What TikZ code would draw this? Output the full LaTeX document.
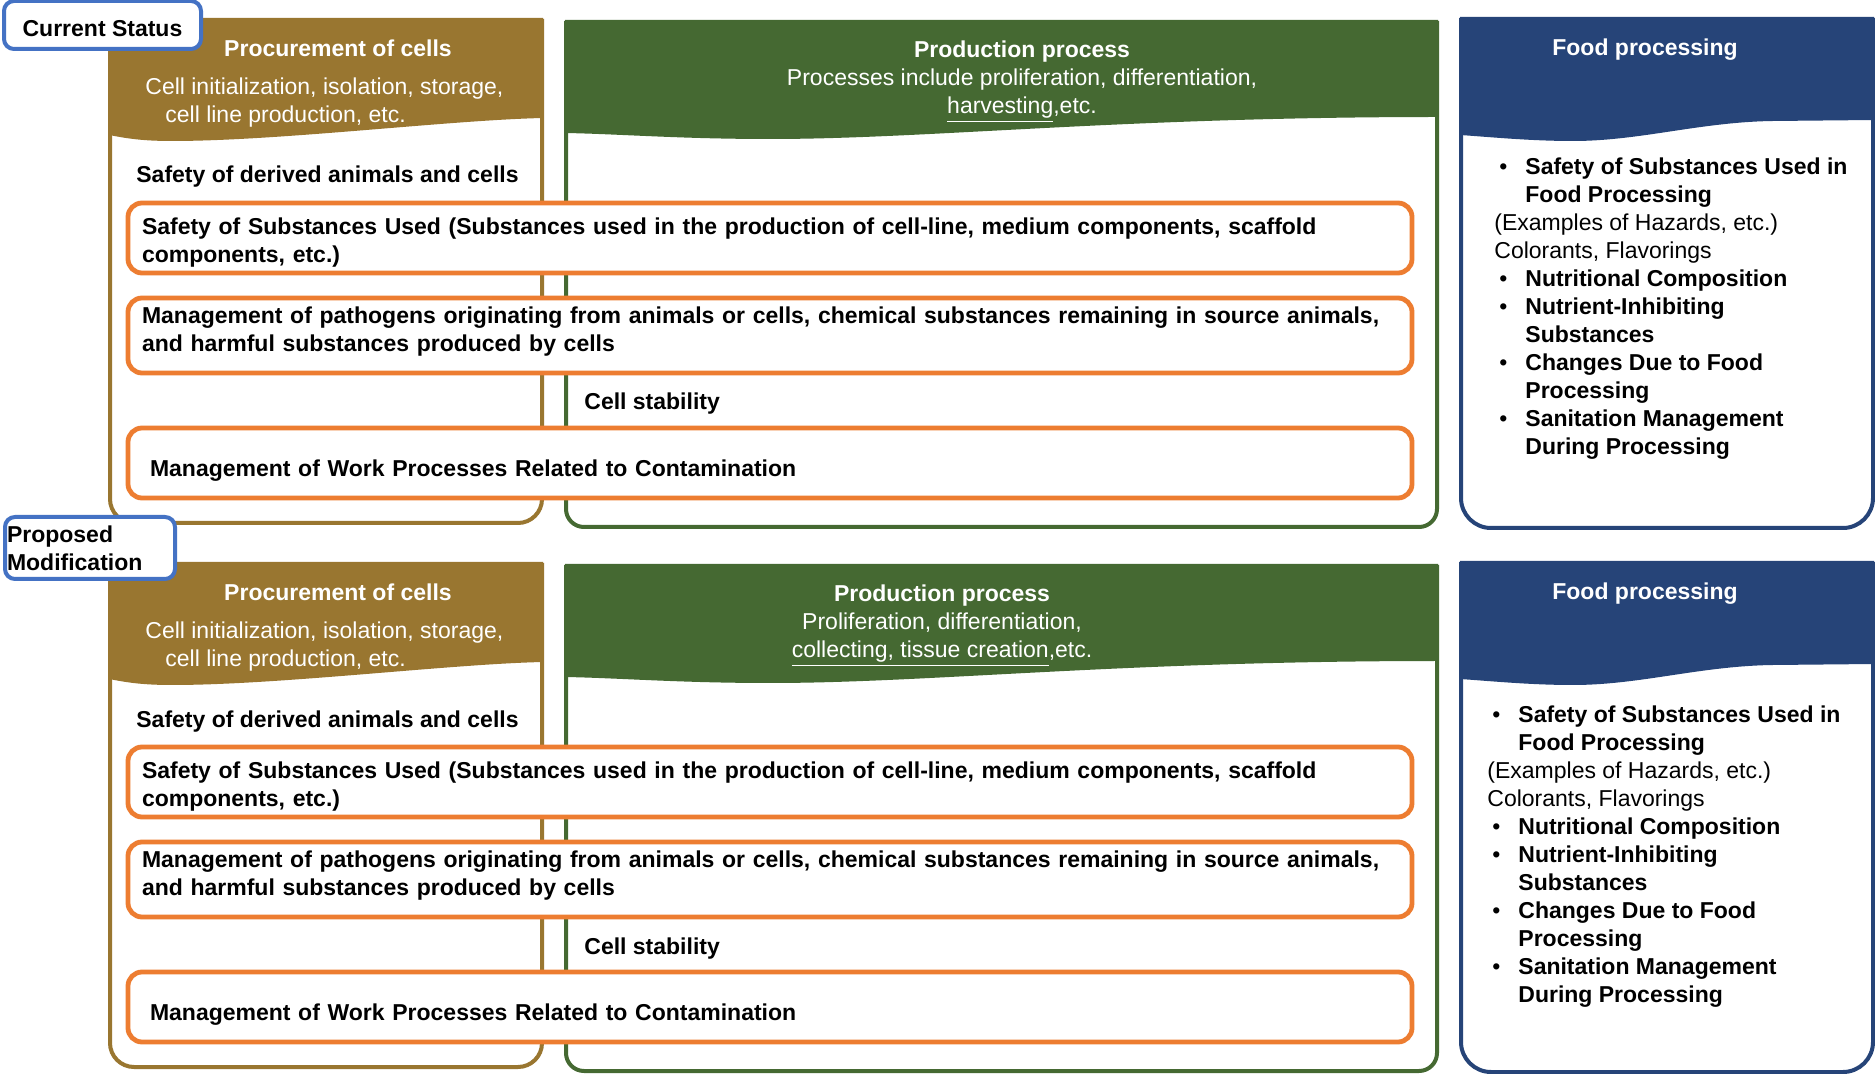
\documentclass[tikz,border=0pt]{standalone}
\usepackage{fontspec}
\setmainfont{Liberation Sans}

\definecolor{procbrown}{RGB}{153,118,48}
\definecolor{prodgreen}{RGB}{69,105,50}
\definecolor{foodblue}{RGB}{38,68,120}
\definecolor{riskorange}{RGB}{237,125,49}
\definecolor{tagblue}{RGB}{68,114,196}

\newcommand{\bodyfont}{\fontsize{11.5}{14}\selectfont}
\newcommand{\bul}{\makebox[15.5pt][l]{\hspace{2.5pt}\textbullet}}
\newcommand{\hang}{\hspace*{15.5pt}}
% lower the ink of a box without changing its size
\newcommand{\sinktext}[2]{\raisebox{-#1}[\height][\depth]{#2}}

\tikzset{
  riskbox/.style={draw=riskorange, line width=2.4pt, fill=white, rounded corners=7pt,
    minimum width=642pt, minimum height=35pt, text width=628pt, inner xsep=7pt,
    font=\bodyfont\bfseries},
  tagbox/.style={draw=tagblue, line width=2pt, fill=white, rounded corners=5pt,
    font=\bodyfont\bfseries},
  headtitle/.style={text=white, inner sep=0, font=\bodyfont\bfseries},
  headtext/.style={text=white, inner sep=0},
  boldtext/.style={anchor=base west, inner sep=0, font=\bodyfont\bfseries},
}

\begin{document}
\begin{tikzpicture}[x=0.5pt, y=-0.5pt, font=\bodyfont]
  \fill[white] (0,0) rectangle (1875,1074);
  \useasboundingbox (0,0) rectangle (1875,1074);

  % current status
  \begin{scope}
    \draw[procbrown, line width=2pt, rounded corners=12pt] (110,19) -- (110,523) -- (542,523) -- (542,19);
    \draw[prodgreen, line width=2pt, rounded corners=9pt] (566,21) -- (566,527) -- (1437,527) -- (1437,21);
    \draw[foodblue, line width=2pt, rounded corners=15pt] (1461,18) -- (1461,528) -- (1873,528) -- (1873,18);

    \fill[procbrown] (109,18) -- (543,18) -- (543,118)
      .. controls (450,120) and (280,141) .. (172,141)
      .. controls (140,141) and (125,138) .. (109,135) -- cycle;
    \fill[prodgreen] (565,20) -- (1438,20) -- (1438,117)
      .. controls (1120,117) and (930,139) .. (770,139)
      .. controls (680,139) and (620,134) .. (565,133) -- cycle;
    \fill[foodblue] (1460,17) -- (1874,17) -- (1874,120) -- (1773,121)
      .. controls (1700,122) and (1640,141) .. (1573,141)
      .. controls (1530,141) and (1490,137) .. (1460,135) -- cycle;

    \node[headtitle] (procA) at (338,48) {Procurement of cells};
    \node[headtext, anchor=base west] (procAsub) at (145,95) {\begin{tabular}[t]{@{}l@{}}
      Cell initialization, isolation, storage,\\
      \hspace*{10pt}cell line production, etc.
    \end{tabular}};
    \node[headtext, anchor=base] (prodA) at (1022,58) {\begin{tabular}[t]{@{}c@{}}
      \textbf{Production process}\\
      Processes include proliferation, differentiation,\\
      \underline{harvesting},etc.
    \end{tabular}};
    \node[headtitle] (foodA) at (1645,50) {Food processing};

    \node[boldtext] (derivedA) at (136,183) {Safety of derived animals and cells};
    \node[boldtext] (stabA) at (584,410) {Cell stability};

    \node[riskbox] (subsA) at (770,238) {\sinktext{2.5pt}{\begin{tabular}{@{}l@{}}
      Safety of Substances Used (Substances used in the production of cell-line, medium components, scaffold\\
      components, etc.)
    \end{tabular}}};
    \node[riskbox, minimum height=37.5pt] (pathA) at (770,335.5) {\sinktext{-1.8pt}{\begin{tabular}{@{}l@{}}
      Management of pathogens originating from animals or cells, chemical substances remaining in source animals,\\
      and harmful substances produced by cells
    \end{tabular}}};
    \node[riskbox] (workA) at (770,463) {\sinktext{4pt}{\begin{tabular}{@{}l@{}}
      \hspace*{4pt}Management of Work Processes Related to Contamination
    \end{tabular}}};

    \node[anchor=base west, inner sep=0] (hazA) at (1494,175) {\begin{tabular}[t]{@{}l@{}}
      \bul\textbf{Safety of Substances Used in}\\
      \hang\textbf{Food Processing}\\
      (Examples of Hazards, etc.)\\
      Colorants, Flavorings\\
      \bul\textbf{Nutritional Composition}\\
      \bul\textbf{Nutrient-Inhibiting}\\
      \hang\textbf{Substances}\\
      \bul\textbf{Changes Due to Food}\\
      \hang\textbf{Processing}\\
      \bul\textbf{Sanitation Management}\\
      \hang\textbf{During Processing}
    \end{tabular}};
  \end{scope}

  % proposed modification
  \begin{scope}[shift={(0,544)}]
    \draw[procbrown, line width=2pt, rounded corners=12pt] (110,19) -- (110,523) -- (542,523) -- (542,19);
    \draw[prodgreen, line width=2pt, rounded corners=9pt] (566,21) -- (566,527) -- (1437,527) -- (1437,21);
    \draw[foodblue, line width=2pt, rounded corners=15pt] (1461,18) -- (1461,528) -- (1873,528) -- (1873,18);

    \fill[procbrown] (109,18) -- (543,18) -- (543,118)
      .. controls (450,120) and (280,141) .. (172,141)
      .. controls (140,141) and (125,138) .. (109,135) -- cycle;
    \fill[prodgreen] (565,20) -- (1438,20) -- (1438,117)
      .. controls (1120,117) and (930,139) .. (770,139)
      .. controls (680,139) and (620,134) .. (565,133) -- cycle;
    \fill[foodblue] (1460,17) -- (1874,17) -- (1874,120) -- (1773,121)
      .. controls (1700,122) and (1640,141) .. (1573,141)
      .. controls (1530,141) and (1490,137) .. (1460,135) -- cycle;

    \node[headtitle] (procB) at (338,48) {Procurement of cells};
    \node[headtext, anchor=base west] (procBsub) at (145,95) {\begin{tabular}[t]{@{}l@{}}
      Cell initialization, isolation, storage,\\
      \hspace*{10pt}cell line production, etc.
    \end{tabular}};
    \node[headtext, anchor=base] (prodB) at (942,58) {\begin{tabular}[t]{@{}c@{}}
      \textbf{Production process}\\
      Proliferation, differentiation,\\
      \underline{collecting, tissue creation},etc.
    \end{tabular}};
    \node[headtitle] (foodB) at (1645,50) {Food processing};

    \node[boldtext] (derivedB) at (136,183) {Safety of derived animals and cells};
    \node[boldtext] (stabB) at (584,410) {Cell stability};

    \node[riskbox] (subsB) at (770,238) {\sinktext{2.5pt}{\begin{tabular}{@{}l@{}}
      Safety of Substances Used (Substances used in the production of cell-line, medium components, scaffold\\
      components, etc.)
    \end{tabular}}};
    \node[riskbox, minimum height=37.5pt] (pathB) at (770,335.5) {\sinktext{-1.8pt}{\begin{tabular}{@{}l@{}}
      Management of pathogens originating from animals or cells, chemical substances remaining in source animals,\\
      and harmful substances produced by cells
    \end{tabular}}};
    \node[riskbox] (workB) at (770,463) {\sinktext{4pt}{\begin{tabular}{@{}l@{}}
      \hspace*{4pt}Management of Work Processes Related to Contamination
    \end{tabular}}};

    \node[anchor=base west, inner sep=0] (hazB) at (1487,179) {\begin{tabular}[t]{@{}l@{}}
      \bul\textbf{Safety of Substances Used in}\\
      \hang\textbf{Food Processing}\\
      (Examples of Hazards, etc.)\\
      Colorants, Flavorings\\
      \bul\textbf{Nutritional Composition}\\
      \bul\textbf{Nutrient-Inhibiting}\\
      \hang\textbf{Substances}\\
      \bul\textbf{Changes Due to Food}\\
      \hang\textbf{Processing}\\
      \bul\textbf{Sanitation Management}\\
      \hang\textbf{During Processing}
    \end{tabular}};
  \end{scope}

  % section tags
  \node[tagbox, minimum width=98.5pt, minimum height=24pt] (curtag) at (102.5,25) {\sinktext{1.8pt}{Current Status}};
  \node[tagbox, minimum width=85pt, minimum height=31pt, text width=83pt, inner xsep=1pt,
    align=left] (modtag) at (90,548) {Proposed\\Modification};
\end{tikzpicture}
\end{document}
